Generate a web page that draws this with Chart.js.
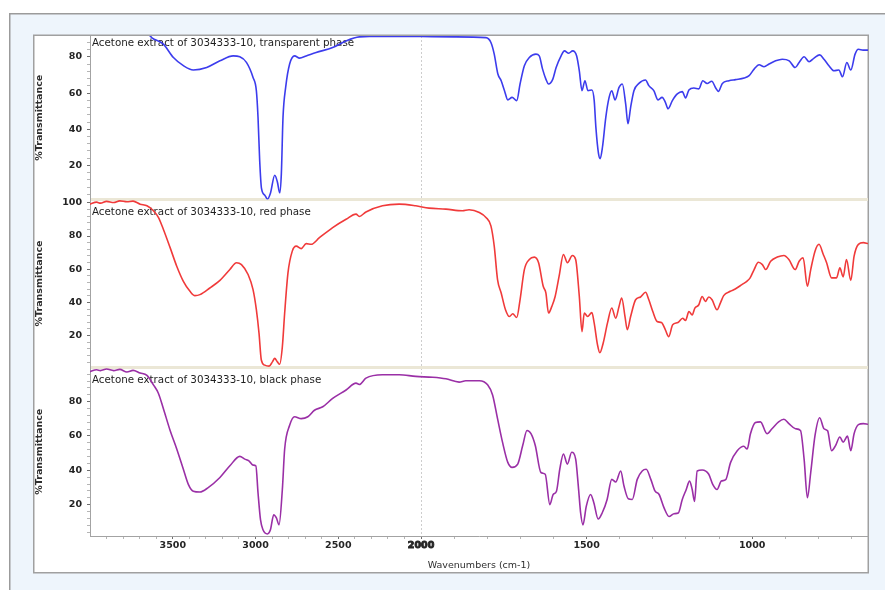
<!DOCTYPE html>
<html>
<head>
<meta charset="utf-8">
<title>FTIR spectra – acetone extracts of 3034333-10</title>
<script src="https://cdn.jsdelivr.net/npm/chart.js@4.4.1/dist/chart.umd.min.js"></script>
<style>
  html, body { margin: 0; padding: 0; background: #ffffff; }
  #wrap { position: relative; width: 885px; height: 590px; }
  canvas { display: block; }
</style>
</head>
<body>
<div id="wrap"><canvas id="spectra" width="885" height="590"></canvas></div>
<script>
// ---- Spectral data (wavenumber in cm-1, %T) ----
const transparentWn = [
  4000, 3900, 3800, 3700, 3640, 3626, 3557, 3496, 3436, 3376,
  3295, 3215, 3135, 3095, 3055, 3015, 2995, 2985, 2975, 2964,
  2944, 2928, 2910, 2884, 2868, 2854, 2844, 2834, 2818, 2794,
  2764, 2734, 2694, 2634, 2534, 2453, 2373, 2300, 2200, 2100,
  2000, 1900, 1804, 1789, 1779, 1768, 1758, 1748, 1738, 1725,
  1711, 1701, 1688, 1673, 1653, 1643, 1633, 1623, 1615, 1602,
  1592, 1577, 1567, 1554, 1542, 1530, 1522, 1514, 1505, 1496,
  1484, 1477, 1472, 1464, 1459, 1452, 1442, 1432, 1424, 1414,
  1402, 1392, 1382, 1375, 1367, 1357, 1342, 1322, 1312, 1297,
  1284, 1272, 1262, 1254, 1241, 1226, 1211, 1201, 1191, 1176,
  1161, 1149, 1136, 1122, 1110, 1102, 1090, 1070, 1050, 1024,
  1009, 994, 979, 964, 949, 929, 909, 888, 870, 858,
  843, 828, 813, 796, 783, 768, 753, 738, 727, 714,
  702, 689, 679, 665, 650
];
const transparentT = [
  92.6, 92.6, 92.5, 92.5, 91.8, 90.5, 87.0, 79.6, 75.1, 72.7,
  74.1, 77.8, 80.5, 80.0, 76.9, 68.6, 61.3, 46.6, 22.9, 7.3,
  3.6, 1.4, 4.6, 14.6, 10.9, 4.9, 15.5, 46.6, 63.1, 76.0,
  80.5, 79.3, 80.5, 82.4, 85.1, 88.8, 91.0, 91.2, 91.3, 91.3,
  91.2, 91.0, 90.6, 87.9, 81.5, 70.5, 66.8, 61.3, 56.2, 57.6,
  55.8, 65.0, 75.1, 79.6, 81.5, 80.5, 73.2, 67.7, 65.0, 67.7,
  74.1, 80.5, 83.3, 82.0, 83.3, 80.5, 72.3, 61.3, 66.8, 61.3,
  61.7, 55.8, 41.2, 26.5, 23.8, 30.2, 46.6, 57.6, 61.3, 56.2,
  63.1, 65.0, 54.0, 43.0, 52.1, 61.3, 65.3, 67.2, 64.1, 61.3,
  56.2, 57.6, 54.9, 51.3, 55.8, 59.5, 60.8, 57.3, 61.7, 62.8,
  62.3, 66.8, 65.3, 66.5, 62.8, 60.9, 65.3, 66.8, 67.4, 68.3,
  69.6, 73.2, 75.6, 74.5, 76.0, 77.8, 78.7, 77.8, 74.1, 76.9,
  80.0, 77.3, 79.3, 81.1, 78.7, 75.1, 72.3, 72.7, 69.0, 76.9,
  72.7, 81.5, 84.2, 83.7, 83.7
];

const redWn = [
  4000, 3960, 3937, 3900, 3857, 3820, 3777, 3740, 3697, 3656,
  3617, 3587, 3557, 3516, 3476, 3436, 3396, 3366, 3336, 3276,
  3215, 3155, 3115, 3085, 3045, 3015, 2995, 2979, 2965, 2944,
  2918, 2898, 2884, 2868, 2854, 2838, 2824, 2804, 2778, 2754,
  2724, 2694, 2664, 2614, 2534, 2453, 2393, 2373, 2333, 2233,
  2132, 2032, 1976, 1925, 1875, 1855, 1824, 1804, 1789, 1779,
  1769, 1758, 1745, 1733, 1723, 1711, 1701, 1688, 1673, 1658,
  1645, 1631, 1623, 1615, 1605, 1595, 1583, 1570, 1558, 1543,
  1533, 1522, 1514, 1507, 1497, 1484, 1477, 1467, 1460, 1450,
  1437, 1424, 1412, 1402, 1394, 1384, 1377, 1367, 1352, 1337,
  1322, 1312, 1300, 1287, 1274, 1262, 1252, 1240, 1224, 1210,
  1201, 1191, 1181, 1173, 1161, 1151, 1141, 1131, 1121, 1106,
  1096, 1086, 1066, 1051, 1031, 1016, 1006, 994, 981, 969,
  959, 944, 924, 904, 889, 870, 858, 846, 833, 823,
  810, 798, 785, 775, 760, 745, 735, 725, 715, 702,
  692, 679, 664, 650
];
const redT = [
  99.2, 100.4, 99.8, 100.9, 100.2, 101.2, 100.6, 101.0, 99.2, 98.2,
  95.2, 91.2, 84.1, 73.0, 61.8, 52.7, 46.7, 44.1, 44.7, 48.7,
  53.3, 59.8, 63.9, 62.8, 56.8, 47.7, 35.6, 21.5, 5.3, 2.2,
  1.6, 4.2, 6.3, 4.2, 2.8, 13.3, 33.6, 57.8, 70.9, 73.9,
  72.4, 75.4, 75.0, 79.0, 85.1, 90.1, 93.2, 91.8, 94.5, 98.2,
  99.2, 98.2, 96.8, 96.2, 95.2, 95.8, 94.2, 91.2, 86.1, 73.9,
  53.8, 45.7, 35.6, 31.5, 33.2, 30.9, 41.6, 59.8, 65.9, 67.3,
  63.9, 49.7, 45.7, 33.6, 37.6, 43.6, 55.8, 68.9, 63.9, 68.3,
  65.9, 43.6, 22.4, 33.6, 31.5, 33.9, 27.5, 14.4, 9.7, 15.4,
  27.5, 36.6, 30.5, 37.6, 42.7, 31.5, 23.5, 31.5, 41.6, 43.3,
  46.1, 41.6, 34.5, 28.5, 27.9, 23.5, 19.4, 26.5, 27.9, 30.5,
  29.1, 34.5, 32.5, 36.6, 38.6, 43.6, 40.6, 43.3, 41.6, 35.6,
  39.6, 44.1, 46.7, 48.1, 50.7, 52.7, 54.8, 59.8, 64.2, 62.8,
  59.8, 64.8, 67.3, 68.3, 65.9, 59.8, 64.8, 66.9, 49.7, 59.8,
  70.9, 75.0, 68.9, 63.9, 54.8, 54.8, 60.8, 55.4, 65.9, 53.3,
  67.9, 75.0, 76.0, 75.5
];

const blackWn = [
  4000, 3960, 3937, 3900, 3857, 3820, 3777, 3740, 3697, 3656,
  3617, 3587, 3557, 3516, 3476, 3436, 3406, 3376, 3336, 3286,
  3215, 3155, 3095, 3065, 3040, 3015, 2998, 2985, 2970, 2955,
  2928, 2910, 2890, 2874, 2858, 2838, 2824, 2794, 2764, 2724,
  2684, 2644, 2594, 2534, 2453, 2393, 2373, 2333, 2233, 2132,
  2032, 1965, 1925, 1885, 1865, 1824, 1799, 1784, 1769, 1754,
  1738, 1725, 1708, 1693, 1680, 1668, 1655, 1638, 1625, 1611,
  1601, 1591, 1581, 1570, 1558, 1545, 1533, 1525, 1518, 1511,
  1501, 1488, 1478, 1465, 1453, 1438, 1424, 1412, 1397, 1387,
  1374, 1362, 1347, 1332, 1320, 1306, 1293, 1281, 1266, 1251,
  1236, 1223, 1211, 1199, 1189, 1181, 1174, 1166, 1151, 1131,
  1119, 1106, 1093, 1080, 1065, 1045, 1025, 1015, 1005, 990,
  975, 955, 940, 920, 904, 889, 869, 854, 843, 833,
  823, 810, 796, 783, 772, 760, 748, 735, 725, 712,
  702, 692, 679, 664, 650
];
const blackT = [
  97.5, 98.6, 98.1, 99.0, 98.1, 98.8, 97.3, 98.2, 96.7, 95.3,
  89.8, 84.9, 76.0, 63.2, 52.4, 40.6, 31.8, 27.8, 27.3, 29.9,
  35.8, 42.6, 48.1, 46.5, 45.5, 43.0, 42.6, 26.9, 11.2, 5.3,
  2.9, 5.3, 14.1, 12.2, 8.2, 28.8, 52.4, 66.2, 71.2, 70.1,
  71.2, 75.0, 77.0, 81.9, 86.8, 90.8, 90.0, 93.7, 95.7, 95.7,
  94.7, 94.2, 93.3, 91.4, 92.2, 92.2, 89.8, 83.9, 70.1, 56.4,
  44.6, 41.7, 43.6, 54.4, 63.2, 61.3, 54.4, 38.7, 37.7, 20.0,
  25.9, 27.8, 40.6, 49.5, 43.6, 50.5, 46.5, 30.8, 15.1, 8.2,
  19.0, 25.9, 21.0, 11.6, 15.1, 23.0, 34.7, 33.2, 39.6, 30.8,
  23.4, 23.0, 34.7, 39.6, 40.6, 34.7, 27.8, 25.9, 18.1, 13.1,
  14.7, 15.1, 23.0, 28.8, 33.7, 28.8, 21.9, 39.6, 40.2, 37.7,
  31.8, 28.8, 33.7, 34.5, 44.6, 51.4, 54.0, 52.4, 61.3, 67.8,
  68.2, 61.3, 64.2, 68.2, 69.7, 67.2, 64.2, 63.2, 46.5, 24.0,
  38.7, 60.3, 70.6, 64.2, 63.0, 51.4, 54.4, 59.4, 56.4, 59.9,
  51.4, 61.3, 66.6, 67.2, 66.8
];

// Panel captions, axis bounds and labelled ticks
const panelCaptions = [
  'Acetone extract of 3034333-10, transparent phase',
  'Acetone extract of 3034333-10, red phase',
  'Acetone extract of 3034333-10, black phase'
];
const panelMin = [1.2, 0.8, 1.7];
const panelMax = [91.5, 102, 99.9];
const wavenumberLabels = [3500, 3000, 2500, 2000, 1500, 1000];
const transmittanceLabels = [20, 40, 60, 80, 100];

// Wavenumber range; below BREAK_AT the axis is stretched by LOW_STRETCH
const WN_MIN = 650, WN_MAX = 4000, BREAK_AT = 2000, LOW_STRETCH = 2;

// ---- Linear scale with a 2x expanded region below 2000 cm-1 ----
class BrokenWavenumberScale extends Chart.LinearScale {
  _offsetOf(v) {
    const lo = this.min;
    return v <= BREAK_AT
      ? (v - lo) * LOW_STRETCH
      : (BREAK_AT - lo) * LOW_STRETCH + (v - BREAK_AT);
  }
  getPixelForValue(value) {
    if (value === null || value === undefined || isNaN(value)) return NaN;
    return this.getPixelForDecimal(this._offsetOf(value) / this._offsetOf(this.max));
  }
  getValueForPixel(pixel) {
    const d = this.getDecimalForPixel(pixel) * this._offsetOf(this.max);
    const breakOffset = (BREAK_AT - this.min) * LOW_STRETCH;
    return d <= breakOffset ? this.min + d / LOW_STRETCH : BREAK_AT + (d - breakOffset);
  }
}
BrokenWavenumberScale.id = 'brokenWavenumber';
BrokenWavenumberScale.defaults = Chart.LinearScale.defaults;
Chart.register(BrokenWavenumberScale);

Chart.defaults.font.family = "'DejaVu Sans', Verdana, sans-serif";

const LABEL_COLOR = '#242424';
const AXIS_GRAY = '#a3a3a3';

function asPoints(wn, t) {
  return wn.map((w, i) => ({ x: w, y: t[i] }));
}

function transmittanceAxis(i, weight, stackWeight) {
  return {
    type: 'linear',
    position: 'left',
    stack: 'spectra',
    stackWeight: stackWeight,
    weight: weight,
    min: panelMin[i],
    max: panelMax[i],
    afterBuildTicks: axis => {
      const ticks = [];
      for (let v = Math.ceil(axis.min / 4) * 4; v <= axis.max; v += 4) ticks.push({ value: v });
      axis.ticks = ticks;
    },
    afterFit: axis => { axis.width = 56; },
    ticks: {
      autoSkip: false,
      padding: 5,
      color: LABEL_COLOR,
      font: { size: 9.5, weight: 'bold' },
      callback: v => transmittanceLabels.includes(v) ? String(v) : ''
    },
    grid: {
      drawOnChartArea: false,
      tickLength: 3,
      tickWidth: 1,
      tickColor: c => (c.tick && transmittanceLabels.includes(c.tick.value)) ? '#6f6f6f' : '#b5b5b5'
    },
    border: { color: AXIS_GRAY, width: 1 },
    title: {
      display: true,
      text: '%Transmittance',
      color: '#2e2e2e',
      font: { size: 9.5, weight: 'bold' },
      padding: 0
    }
  };
}

// Frame, panel separators and captions
const spectrumFrame = {
  id: 'spectrumFrame',
  beforeDraw(chart) {
    const c = chart.ctx;
    const W = chart.width, H = chart.height;
    c.save();
    c.fillStyle = '#ffffff';
    c.fillRect(0, 0, W, H);
    c.fillStyle = '#eef5fc';
    c.fillRect(9, 13, W - 9, H - 13);
    c.strokeStyle = '#9b9b9b';
    c.lineWidth = 1.5;
    c.beginPath();
    c.moveTo(9.75, H);
    c.lineTo(9.75, 13.75);
    c.lineTo(W, 13.75);
    c.stroke();
    c.fillStyle = '#ffffff';
    c.fillRect(33, 35, 835, 538);
    c.strokeStyle = '#a0a0a0';
    c.lineWidth = 1.5;
    c.strokeRect(33.75, 35.25, 834.5, 537.5);
    c.restore();
  },
  beforeDatasetsDraw(chart) {
    const c = chart.ctx;
    const area = chart.chartArea;
    const axes = [chart.scales.yTransparent, chart.scales.yRed, chart.scales.yBlack];
    c.save();
    // beige bands between stacked panels
    c.strokeStyle = '#ebe7d6';
    c.lineWidth = 3;
    [axes[1].top, axes[2].top].forEach(y => {
      c.beginPath();
      c.moveTo(area.left + 1, y);
      c.lineTo(area.right, y);
      c.stroke();
    });
    // captions, drawn beneath the spectra
    const captionDrop = [7.3, 13.2, 13.2];
    c.fillStyle = '#1e1e1e';
    c.font = "10.3px 'DejaVu Sans', Verdana, sans-serif";
    c.textBaseline = 'middle';
    c.textAlign = 'left';
    axes.forEach((ax, i) => c.fillText(panelCaptions[i], area.left + 2, ax.top + captionDrop[i]));
    c.restore();
  }
};

new Chart(document.getElementById('spectra'), {
  type: 'line',
  data: {
    datasets: [
      { label: 'transparent phase', data: asPoints(transparentWn, transparentT), yAxisID: 'yTransparent', borderColor: '#3c3ced' },
      { label: 'red phase', data: asPoints(redWn, redT), yAxisID: 'yRed', borderColor: '#f03a3a' },
      { label: 'black phase', data: asPoints(blackWn, blackT), yAxisID: 'yBlack', borderColor: '#9a2fa6' }
    ]
  },
  options: {
    responsive: false,
    animation: false,
    devicePixelRatio: 1,
    layout: { padding: { left: 34, top: 36, right: 17, bottom: 17 } },
    elements: {
      point: { radius: 0 },
      line: { borderWidth: 1.6, cubicInterpolationMode: 'monotone', fill: false }
    },
    plugins: {
      legend: { display: false },
      tooltip: { enabled: false }
    },
    scales: {
      x: {
        type: 'brokenWavenumber',
        position: 'bottom',
        min: WN_MIN,
        max: WN_MAX,
        reverse: true,
        afterBuildTicks: axis => {
          const ticks = [];
          for (let w = 700; w <= 3900; w += 100) ticks.push({ value: w });
          axis.ticks = ticks;
        },
        afterFit: axis => { axis.height = 37; },
        ticks: {
          autoSkip: false,
          maxRotation: 0,
          padding: 1,
          color: LABEL_COLOR,
          font: { size: 9.5, weight: 'bold' },
          textStrokeColor: LABEL_COLOR,
          textStrokeWidth: c => (c.tick && c.tick.value === BREAK_AT) ? 0.9 : 0,
          callback: v => wavenumberLabels.includes(v) ? String(v) : ''
        },
        grid: {
          drawOnChartArea: true,
          color: c => (c.tick && c.tick.value === BREAK_AT) ? '#cdcdcd' : 'rgba(0,0,0,0)',
          lineWidth: 1,
          tickLength: 3,
          tickWidth: 1,
          tickColor: c => (c.tick && wavenumberLabels.includes(c.tick.value)) ? '#6f6f6f' : '#b5b5b5'
        },
        border: { color: AXIS_GRAY, width: 1, dash: [2, 2] },
        title: {
          display: true,
          text: 'Wavenumbers (cm-1)',
          color: '#2e2e2e',
          font: { size: 9.5 },
          padding: { top: 0, bottom: 2 }
        }
      },
      yTransparent: transmittanceAxis(0, 3, 163.5),
      yRed: transmittanceAxis(1, 2, 168),
      yBlack: transmittanceAxis(2, 1, 168.5)
    }
  },
  plugins: [spectrumFrame]
});
</script>
</body>
</html>
